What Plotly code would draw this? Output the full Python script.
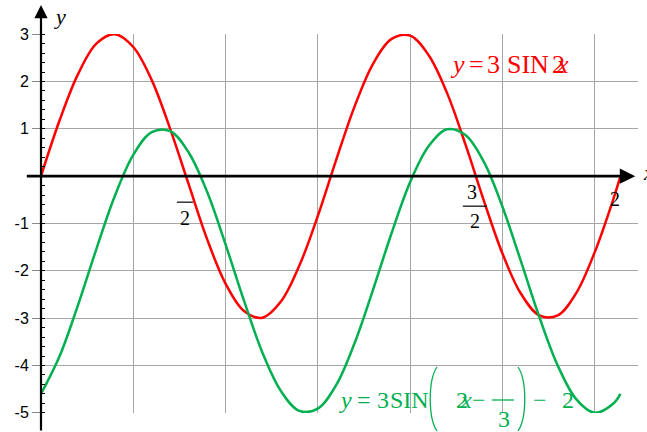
import numpy as np
import plotly.graph_objects as go

# ---------------- data ----------------
x_vals = [0.0, 0.2, 0.4, 0.6, 0.8, 1.0, 1.2, 1.4, 1.6, 1.8, 2.0, 2.2, 2.4, 2.6, 2.8, 3.0,
          3.2, 3.4, 3.6, 3.8, 4.0, 4.2, 4.4, 4.6, 4.8, 5.0, 5.2, 5.4, 5.6, 5.8, 6.0, 6.2, 6.28]
red_y = [0.00, 1.17, 2.15, 2.80, 3.00, 2.73, 2.03, 1.00, -0.17, -1.33, -2.27, -2.85, -2.99,
         -2.65, -1.89, -0.84, 0.35, 1.48, 2.38, 2.90, 2.97, 2.56, 1.76, 0.67, -0.52, -1.63,
         -2.48, -2.94, -2.94, -2.47, -1.61, -0.50, 0.00]
green_y = [-4.60, -3.81, -2.73, -1.54, -0.42, 0.45, 0.93, 0.95, 0.50, -0.33, -1.44, -2.63,
           -3.73, -4.54, -4.96, -4.91, -4.41, -3.52, -2.39, -1.20, -0.13, 0.63, 0.99, 0.87,
           0.30, -0.64, -1.79, -2.97, -4.00, -4.71, -5.00, -4.81, -4.60]

y_tick_vals = [3, 2, 1, -1, -2, -3, -4, -5]
y_tick_text = ["3", "2", "1", "-1", "-2", "-3", "-4", "-5"]

# x labels at pi/2, 3pi/2, 2pi (the pi glyph is not rendered in the picture)
x_label_vals = [np.pi / 2, 3 * np.pi / 2, 2 * np.pi]
x_label_num = ["", "3", "2"]
x_label_den = ["2", "2", ""]

RED = "#FF0000"
GREEN = "#00B050"
SERIF = "Liberation Serif, Times New Roman, serif"
SANS = "Liberation Sans, Arial, sans-serif"

# plot area geometry (pixels)
W, H = 647, 432
L, R, T, B = 41, 9, 34, 19
PW, PH = W - L - R, H - T - B


def px(xp):
    return (xp - L) / PW


def py(yp):
    return (H - B - yp) / PH


fig = go.Figure()
fig.add_trace(go.Scatter(x=x_vals, y=red_y, mode="lines", cliponaxis=False,
                         line=dict(color=RED, width=2.5, shape="spline", smoothing=1),
                         hoverinfo="skip"))
fig.add_trace(go.Scatter(x=x_vals, y=green_y, mode="lines", cliponaxis=False,
                         line=dict(color=GREEN, width=2.5, shape="spline", smoothing=1),
                         hoverinfo="skip"))

annotations = []
shapes = []

# axes with arrows
annotations.append(dict(x=px(41), y=py(5), ax=0, ay=427, xref="paper", yref="paper",
                        axref="pixel", ayref="pixel",
                        text="", showarrow=True, arrowhead=2, arrowsize=1.2, arrowwidth=2.2,
                        arrowcolor="black"))
annotations.append(dict(x=6.44, y=0, ax=-0.17, ay=0, xref="x", yref="y", axref="x", ayref="y",
                        text="", showarrow=True, arrowhead=2, arrowsize=1.1, arrowwidth=2.8,
                        arrowcolor="black"))

# axis names
annotations.append(dict(x=px(60), y=py(16), xref="paper", yref="paper", text="<i>y</i>",
                        showarrow=False, font=dict(family=SERIF, size=22, color="black"),
                        xanchor="center", yanchor="middle"))
annotations.append(dict(x=px(641), y=py(172), xref="paper", yref="paper", text="<i>x</i>",
                        showarrow=False, font=dict(family=SERIF, size=22, color="black"),
                        xanchor="left", yanchor="middle"))

# x labels (fractions)
num_shift = [0, -4, -6]
for xv, num, den, dx in zip(x_label_vals, x_label_num, x_label_den, num_shift):
    if den:
        if num:
            annotations.append(dict(x=xv, y=0, xref="x", yref="y", text=num, showarrow=False,
                                    xshift=dx, yshift=-16,
                                    font=dict(family=SERIF, size=20, color="black")))
        half = 12 if num else 8
        shapes.append(dict(type="line", xref="x", yref="y", xsizemode="pixel", ysizemode="pixel",
                           xanchor=xv, yanchor=0, x0=-half - 1, x1=half - 1, y0=-30 if num else -26,
                           y1=-30 if num else -26, line=dict(color="black", width=1.2)))
        annotations.append(dict(x=xv, y=0, xref="x", yref="y", text=den, showarrow=False,
                                xshift=-1, yshift=-45 if num else -42,
                                font=dict(family=SERIF, size=20, color="black")))
    else:
        annotations.append(dict(x=xv, y=0, xref="x", yref="y", text=num, showarrow=False,
                                xshift=dx, yshift=-23,
                                font=dict(family=SERIF, size=20, color="black")))


def piece(text, xc, yc, color, size):
    annotations.append(dict(x=px(xc), y=py(yc), xref="paper", yref="paper", text=text,
                            showarrow=False, xanchor="center", yanchor="middle",
                            font=dict(family=SERIF, size=size, color=color)))


# red formula label: y = 3SIN 2x
rs, ry = 26, 64
piece("<i>y</i>", 457, ry, RED, rs)
piece("=", 476, ry, RED, rs)
piece("3", 493, ry, RED, rs)
piece("SIN", 528, ry, RED, rs)
piece("2", 558, ry, RED, rs)
piece("<i>x</i>", 562, ry, RED, rs)

# green formula label: y = 3SIN(2x - /3) - 2
gs, gy = 24, 400
piece("<i>y</i>", 345, gy, GREEN, gs)
piece("=", 364, gy, GREEN, gs)
piece("3", 383, gy, GREEN, gs)
piece("SIN", 409, gy, GREEN, gs)
piece("2", 462, gy, GREEN, gs)
piece("<i>x</i>", 466, gy, GREEN, gs)
piece("\u2212", 479, gy, GREEN, gs)
piece("3", 504, 419, GREEN, gs)
piece("\u2212", 540, gy, GREEN, gs)
piece("2", 568, gy, GREEN, gs)
shapes.append(dict(type="line", xref="paper", yref="paper", x0=px(492), x1=px(514),
                   y0=py(400), y1=py(400), line=dict(color=GREEN, width=1.3)))
# parentheses
shapes.append(dict(type="path", xref="paper", yref="paper",
                   path=f"M {px(437)},{py(367)} C {px(428)},{py(380)} {px(428)},{py(418)} {px(437)},{py(431)}",
                   line=dict(color=GREEN, width=1.3)))
shapes.append(dict(type="path", xref="paper", yref="paper",
                   path=f"M {px(518)},{py(367)} C {px(527)},{py(380)} {px(527)},{py(418)} {px(518)},{py(431)}",
                   line=dict(color=GREEN, width=1.3)))

fig.update_layout(
    width=W, height=H,
    margin=dict(l=L, r=R, t=T, b=B, pad=0, autoexpand=False),
    plot_bgcolor="white", paper_bgcolor="white",
    showlegend=False,
    xaxis=dict(range=[0, 6.47], tick0=0, dtick=1, showgrid=True, gridcolor="#A6A6A6",
               gridwidth=1, showticklabels=False, zeroline=False, showline=False, ticks="",
               fixedrange=True, automargin=False),
    yaxis=dict(range=[-5.004, 3.004], tickmode="array", tickvals=y_tick_vals,
               ticktext=y_tick_text, showgrid=True, gridcolor="#A6A6A6", gridwidth=1,
               zeroline=False, showline=False, ticks="outside", ticklen=8,
               tickcolor="#888888", tickwidth=1,
               tickfont=dict(family=SANS, size=16, color="black"),
               minor=dict(ticks="inside", tickmode="linear", tick0=0, dtick=0.2, ticklen=4,
                          tickcolor="black", tickwidth=1, showgrid=False),
               fixedrange=True, automargin=False),
    annotations=annotations,
    shapes=shapes,
)

fig.write_html("out.html", config={"displayModeBar": False},
               post_script="document.body.style.margin='0';document.body.style.overflow='hidden';")
